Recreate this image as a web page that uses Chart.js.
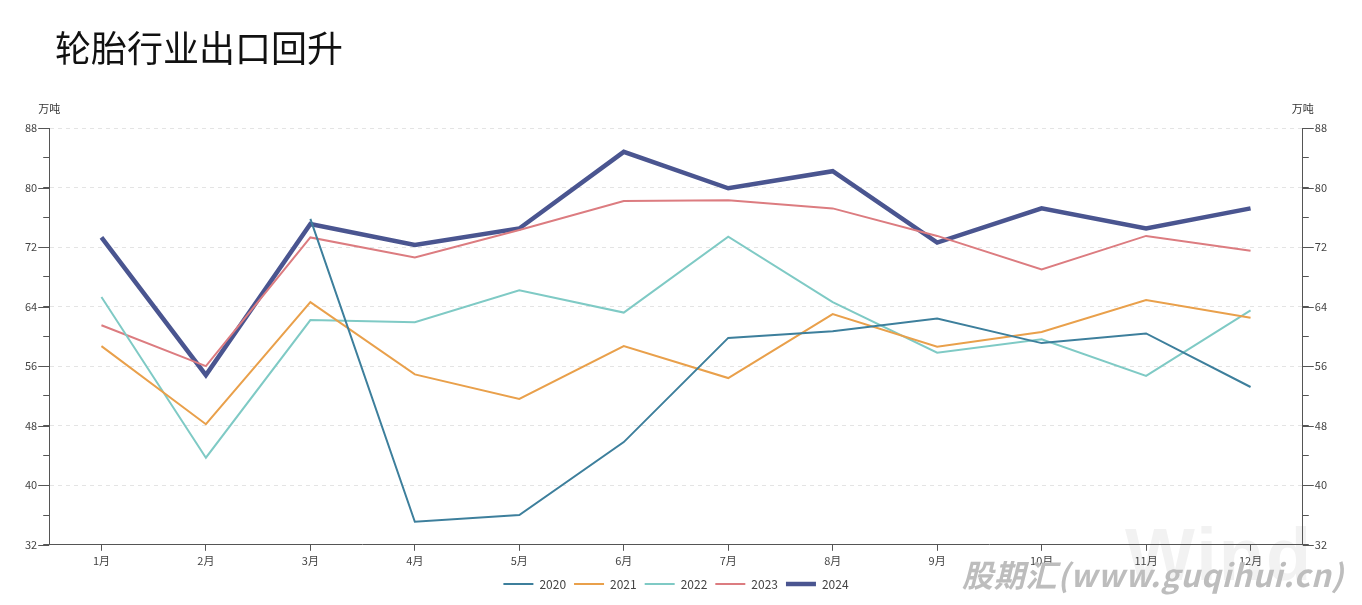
<!DOCTYPE html>
<html>
<head>
<meta charset="utf-8">
<script src="https://cdn.jsdelivr.net/npm/chart.js@4.4.1/dist/chart.umd.min.js"></script>
<style>
  body { margin: 0; background: #fff; }
  #wrap { position: relative; width: 1362px; height: 605px; overflow: hidden; }
  #title { position: absolute; left: 55px; top: 20px; font: 36px 'Noto Sans CJK SC', sans-serif; color: #111; }
  #wm1 { position: absolute; left: 1125px; top: 512px; font: bold 74px 'Liberation Sans', sans-serif; color: #f2f2f2; letter-spacing: 2px; }
  #wm2 { position: absolute; left: 962px; top: 551px; font: italic bold 31px 'Noto Sans CJK SC', sans-serif; color: #bdbdbd; letter-spacing: 0.8px; }
  canvas { position: absolute; left: 0; top: 0; }
</style>
</head>
<body>
<div id="wrap">
  <div id="wm1">Wind</div>
  <canvas id="chart" width="1362" height="605"></canvas>
  <div id="wm2">股期汇(www.guqihui.cn)</div>
  <div id="title">轮胎行业出口回升</div>
</div>
<script>
const months = ['1月', '2月', '3月', '4月', '5月', '6月', '7月', '8月', '9月', '10月', '11月', '12月'];
const years = ['2020', '2021', '2022', '2023', '2024'];
const v2020 = [null, null, 75.8, 35.1, 36.0, 45.8, 59.8, 60.7, 62.4, 59.1, 60.4, 53.2];
const v2021 = [58.7, 48.2, 64.6, 54.9, 51.6, 58.7, 54.4, 63.0, 58.6, 60.6, 64.9, 62.5];
const v2022 = [65.3, 43.7, 62.2, 61.9, 66.2, 63.2, 73.4, 64.6, 57.8, 59.6, 54.7, 63.5];
const v2023 = [61.5, 56.0, 73.3, 70.6, 74.3, 78.2, 78.3, 77.2, 73.5, 69.0, 73.5, 71.5];
const v2024 = [73.3, 54.8, 75.1, 72.3, 74.5, 84.8, 79.9, 82.2, 72.6, 77.2, 74.5, 77.2];
const yMin = 32, yMax = 88;
const unit = '万吨';

const colors = ['#3d7f9c', '#e9a04b', '#7fcac5', '#dc7c80', '#4a5590'];
const widths = [2, 2, 2, 2, 4.5];
const series = [v2020, v2021, v2022, v2023, v2024];

const font = { family: "'Noto Sans CJK SC', sans-serif", size: 11 };
const axisColor = '#555';

// longer tick marks at the labelled values, and the unit above each y axis
const axisExtras = {
  id: 'axisExtras',
  afterDraw(chart) {
    const ctx = chart.ctx;
    ctx.save();
    ctx.strokeStyle = axisColor;
    ctx.lineWidth = 1;
    ['y', 'y1'].forEach(id => {
      const s = chart.scales[id];
      const x = id === 'y' ? s.right : s.left;
      const dir = id === 'y' ? -1 : 1;
      for (let v = yMin; v <= yMax; v += 8) {
        const py = Math.round(s.getPixelForValue(v)) + 0.5;
        ctx.beginPath();
        ctx.moveTo(x, py);
        ctx.lineTo(x + dir * 11, py);
        ctx.stroke();
      }
      ctx.fillStyle = '#333';
      ctx.font = "11px 'Noto Sans CJK SC', sans-serif";
      ctx.textAlign = 'center';
      ctx.textBaseline = 'middle';
      ctx.fillText(unit, x, s.top - 19);
    });
    ctx.restore();
  }
};

const yTicks = {
  stepSize: 2,
  color: '#444',
  font: font,
  padding: 6,
  callback: v => (v - yMin) % 8 === 0 ? v : ''
};

new Chart(document.getElementById('chart'), {
  type: 'line',
  data: {
    labels: months,
    datasets: series.map((d, i) => ({
      label: years[i],
      data: d,
      borderColor: colors[i],
      backgroundColor: colors[i],
      borderWidth: widths[i],
      pointRadius: 0,
      tension: 0,
      spanGaps: false
    }))
  },
  options: {
    responsive: false,
    animation: false,
    layout: { padding: { top: 128, left: 19, right: 29, bottom: 5 } },
    plugins: {
      legend: {
        position: 'bottom',
        labels: {
          usePointStyle: true,
          pointStyle: 'line',
          pointStyleWidth: 30,
          color: '#444',
          font: { family: font.family, size: 12 },
          padding: 8
        }
      },
      tooltip: { enabled: false }
    },
    scales: {
      x: {
        offset: true,
        grid: { offset: false, drawOnChartArea: false, tickLength: 6, tickColor: axisColor },
        border: { color: axisColor },
        ticks: { color: '#444', font: font, padding: 3, maxRotation: 0, autoSkip: false }
      },
      y: {
        position: 'left',
        min: yMin,
        max: yMax,
        ticks: yTicks,
        border: { color: axisColor, dash: [4, 4] },
        grid: {
          tickLength: 6,
          tickColor: axisColor,
          color: c => (c.tick.value - yMin) % 8 === 0 && c.tick.value !== yMin ? '#e4e4e4' : 'rgba(0,0,0,0)',
          lineWidth: 1
        }
      },
      y1: {
        position: 'right',
        min: yMin,
        max: yMax,
        ticks: yTicks,
        border: { color: axisColor },
        grid: { drawOnChartArea: false, tickLength: 6, tickColor: axisColor }
      }
    }
  },
  plugins: [axisExtras]
});
</script>
</body>
</html>
